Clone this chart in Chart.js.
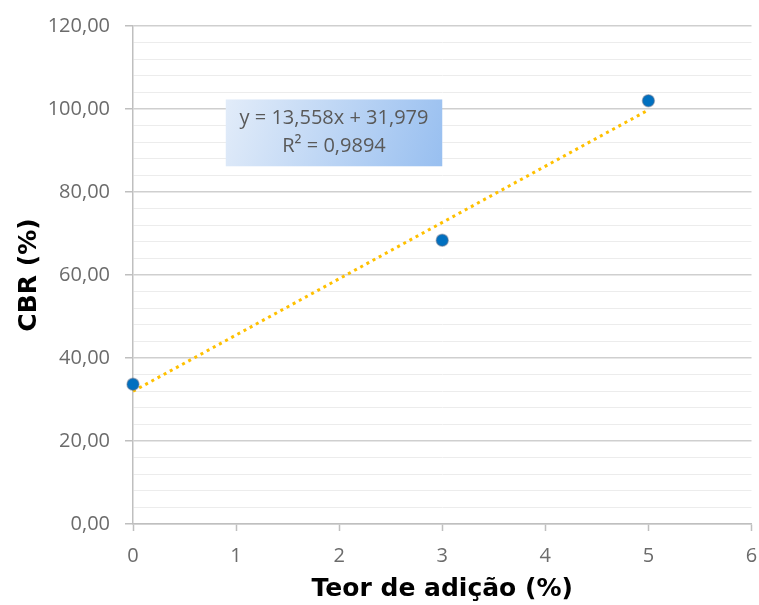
<!DOCTYPE html>
<html>
<head>
<meta charset="utf-8">
<script src="https://cdn.jsdelivr.net/npm/chart.js@4.4.1/dist/chart.umd.min.js"></script>
<style>
  html, body { margin: 0; padding: 0; background: #ffffff; }
  #wrap { width: 759px; height: 605px; position: relative; }
</style>
</head>
<body>
<div id="wrap"><canvas id="c"></canvas></div>
<script>
// ---- data ----
const teor = [0, 3, 5];                 // Teor de adição (%)
const cbr = [33.7, 68.4, 102.0];        // CBR (%)
const trendSlope = 13.558;
const trendIntercept = 31.979;
const trendLabel = ['y = 13,558x + 31,979', 'R² = 0,9894'];
const xTitle = 'Teor de adição (%)';
const yTitle = 'CBR (%)';
const yMin = 0, yMax = 120, yMajor = 20, yMinor = 4;
const xMin = 0, xMax = 6, xStep = 1;
// label box anchor (data units)
const boxX = [0.9, 3.0];
const boxY = [86.2, 102.3];

const points = teor.map((x, i) => ({ x: x, y: cbr[i] }));
const xFrom = Math.min(...teor), xTo = Math.max(...teor);
const trend = [xFrom, xTo].map(x => ({ x: x, y: trendIntercept + trendSlope * x }));

const isMajor = v => Math.abs(v / yMajor - Math.round(v / yMajor)) < 1e-6;
const fmt = v => v.toFixed(2).replace('.', ',');

const tickFont = { family: '"Open Sans", sans-serif', size: 20 };
const titleFont = { family: '"DejaVu Sans", sans-serif', size: 25, weight: 'bold' };

const labelBox = {
  id: 'labelBox',
  beforeDatasetsDraw(chart) {
    const { ctx, scales } = chart;
    const x1 = scales.x.getPixelForValue(boxX[0]);
    const x2 = scales.x.getPixelForValue(boxX[1]);
    const y1 = scales.y.getPixelForValue(boxY[1]);
    const y2 = scales.y.getPixelForValue(boxY[0]);
    ctx.save();
    const g = ctx.createLinearGradient(x1, y1, x2, y2);
    g.addColorStop(0, '#e2ecf9');
    g.addColorStop(1, '#98bff0');
    ctx.fillStyle = g;
    ctx.fillRect(x1, y1, x2 - x1, y2 - y1);
    ctx.fillStyle = '#595959';
    ctx.font = '20px "Open Sans", sans-serif';
    ctx.textAlign = 'center';
    ctx.textBaseline = 'middle';
    const cx = (x1 + x2) / 2;
    const h = y2 - y1;
    ctx.fillText(trendLabel[0], cx, y1 + h * 0.28);
    ctx.fillText(trendLabel[1], cx, y1 + h * 0.70);
    ctx.restore();
  }
};

new Chart(document.getElementById('c'), {
  type: 'scatter',
  data: {
    datasets: [
      {
        label: 'Tendência',
        data: trend,
        type: 'line',
        showLine: true,
        borderColor: '#FFC000',
        borderWidth: 3,
        borderDash: [3, 4],
        borderCapStyle: 'butt',
        pointRadius: 0,
        fill: false,
        clip: false,
        order: 2
      },
      {
        label: 'CBR',
        data: points,
        backgroundColor: '#0070C0',
        borderColor: 'rgba(90,110,140,0.45)',
        borderWidth: 1.5,
        pointRadius: 6,
        clip: false,
        order: 1
      }
    ]
  },
  options: {
    responsive: true,
    maintainAspectRatio: false,
    animation: false,
    layout: { padding: { left: 0, right: 6, top: 26, bottom: 0 } },
    plugins: {
      legend: { display: false },
      tooltip: { enabled: false }
    },
    scales: {
      x: {
        type: 'linear',
        min: xMin, max: xMax,
        afterFit(s) { s.height = 81; s.paddingLeft = 0; s.paddingRight = 0; },
        ticks: { stepSize: xStep, color: '#6b6b6b', font: tickFont, padding: 13, autoSkip: false },
        grid: { drawOnChartArea: false, tickLength: 7, tickColor: '#bfbfbf', tickWidth: 1.5 },
        border: { color: '#bfbfbf', width: 1.5 },
        title: { display: true, text: xTitle, color: '#000000', font: titleFont, padding: { top: 0, bottom: 1 } }
      },
      y: {
        type: 'linear',
        min: yMin, max: yMax,
        afterFit(s) { s.width = 133; s.paddingTop = 0; s.paddingBottom = 0; },
        ticks: {
          stepSize: yMinor, autoSkip: false, color: '#6b6b6b', font: tickFont, padding: 15,
          callback: v => isMajor(v) ? fmt(v) : ''
        },
        grid: {
          tickLength: 8,
          color: c => isMajor(c.tick.value) ? '#cfcfcf' : '#ececec',
          lineWidth: c => isMajor(c.tick.value) ? 1.5 : 1,
          tickColor: c => isMajor(c.tick.value) ? '#bfbfbf' : 'rgba(0,0,0,0)'
        },
        border: { color: '#bfbfbf', width: 1.5 },
        title: { display: true, text: yTitle, color: '#000000', font: titleFont, padding: { top: 14, bottom: 0 } }
      }
    }
  },
  plugins: [labelBox]
});
</script>
</body>
</html>
